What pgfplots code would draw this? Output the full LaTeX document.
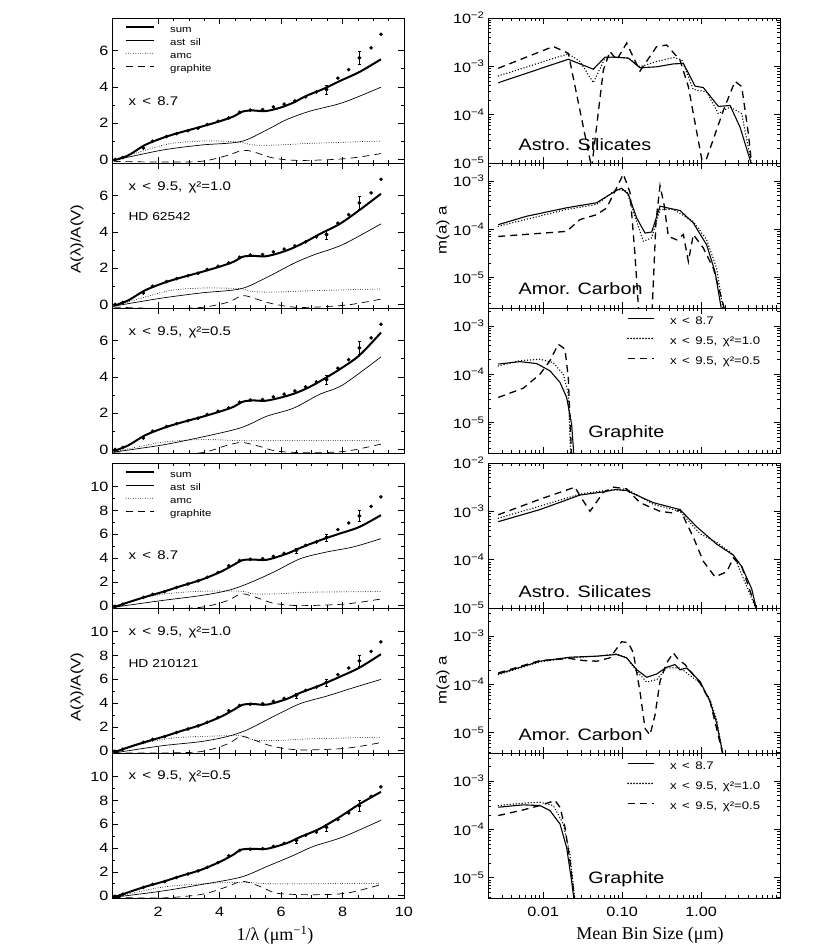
\documentclass[border=0pt]{standalone}
\usepackage{fontspec}
\setmainfont{Liberation Sans}[FakeStretch=1.2]
\newfontfamily\serif{Liberation Serif}
\usepackage{pgfplots}
\usepackage{pgfplotstable}
\pgfplotsset{compat=1.18}
\newcommand\fs[1]{\fontsize{#1}{#1}\selectfont}

\pgfplotstableread{
x y
0.60 0.00
0.85 0.10
1.52 0.62
1.82 1.00
2.27 1.26
2.60 1.42
2.97 1.58
3.30 1.72
3.60 1.92
3.95 2.10
4.30 2.28
4.65 2.60
5.00 2.72
5.40 2.75
5.75 2.90
6.10 3.05
6.45 3.22
6.80 3.45
7.15 3.72
7.48 3.85
7.85 4.48
8.20 4.95
8.55 5.60
8.93 6.15
9.25 6.90
}\ptsA
\pgfplotstableread{
x y e
7.48 3.85 0.25
8.55 5.60 0.35
}\errA
\pgfplotstableread{
x y
0.60 -0.05
0.85 0.12
1.52 0.70
1.82 0.95
2.21 1.18
2.60 1.52
2.97 1.82
3.30 2.08
3.60 2.38
3.95 2.78
4.30 3.35
4.65 3.80
5.00 3.90
5.40 3.95
5.75 4.15
6.10 4.40
6.50 4.65
6.80 5.07
7.15 5.35
7.48 5.75
7.85 6.40
8.20 6.95
8.55 7.55
8.93 8.35
9.25 9.15
}\ptsB
\pgfplotstableread{
x y e
6.50 4.65 0.20
7.48 5.75 0.30
8.55 7.55 0.45
}\errB

\pgfplotsset{
 base/.style={scale only axis, width=292pt, height=145pt, anchor=north west,
   tick align=inside, major tick length=6pt, minor tick length=3pt,
   tick style={black, line width=0.6pt}, axis line style={line width=0.9pt},
   ticklabel style={font=\fs{13.5}}, /pgf/number format/assume math mode=true},
 leftax/.style={base, xmin=0.5, xmax=10, xtick={2,4,6,8,10}, minor x tick num=3, minor y tick num=1},
 topL/.style={ymin=-0.2, ymax=7.8, ytick={0,2,4,6}},
 botL/.style={ymin=-0.2, ymax=12, ytick={0,2,4,6,8,10}},
 rightax/.style={base, xmin=-2.699, xmax=1, xtick={-2,-1,0},
   minor xtick={-2.523,-2.398,-2.301,-2.222,-2.155,-2.097,-2.046,-1.699,-1.523,-1.398,-1.301,-1.222,-1.155,-1.097,-1.046,-0.699,-0.523,-0.398,-0.301,-0.222,-0.155,-0.097,-0.046,0.301,0.477,0.602,0.699,0.778,0.845,0.903,0.954},
   minor ytick={-5.699,-5.523,-5.398,-5.301,-5.222,-5.155,-5.097,-5.046,-4.699,-4.523,-4.398,-4.301,-4.222,-4.155,-4.097,-4.046,-3.699,-3.523,-3.398,-3.301,-3.222,-3.155,-3.097,-3.046,-2.699,-2.523,-2.398,-2.301,-2.222,-2.155,-2.097,-2.046}},
 sumst/.style={black, line width=2pt, smooth},
 silst/.style={black, line width=0.7pt, smooth},
 amcst/.style={black, line width=0.9pt, line cap=round, dash pattern=on 0pt off 2.4pt, smooth},
 grast/.style={black, line width=0.7pt, dash pattern=on 7pt off 5pt, smooth},
 rsol/.style={black, line width=1.1pt},
 rdot/.style={black, line width=1.5pt, line cap=round, dash pattern=on 0pt off 3pt},
 rdash/.style={black, line width=1.3pt, dash pattern=on 7pt off 5pt},
 pts/.style={only marks, mark=*, mark size=1.6pt, black, forget plot},
 errs/.style={only marks, mark=*, mark size=1.6pt, black, forget plot, error bars/.cd, y dir=both, y explicit, error bar style={line width=0.8pt}},
 leglft/.style={legend style={at={(axis description cs:0.0445,0.963)}, anchor=north west, draw=none, fill=none, inner sep=0pt, font=\fs{9.5}, column sep=15pt, nodes={inner xsep=0pt, inner ysep=1.8pt, text height=7.2pt, text depth=2.2pt, anchor=west}},
   legend image code/.code={\draw[##1] (0pt,2.8pt) -- (28pt,2.8pt);}},
 legrgt/.style={legend style={at={(axis description cs:0.476,0.974)}, anchor=north west, draw=none, fill=none, inner sep=0pt, font=\fs{11}, column sep=15pt, nodes={inner xsep=0pt, inner ysep=4.75pt, text height=8pt, text depth=2.5pt, anchor=west}},
   legend image code/.code={\draw[##1, line width=1.8pt] (0pt,3.5pt) -- (26pt,3.5pt);}},
}

\begin{document}
\begin{tikzpicture}
\path[use as bounding box] (0pt,0pt) rectangle (830pt,949pt);

% ---------------- Left column, HD 62542 ----------------
\begin{axis}[leftax, topL, at={(112pt,931pt)}, xticklabels={}, leglft]
\addplot[sumst] coordinates {(0.55,-0.06) (1.03,0.22) (1.57,0.79) (2.21,1.22) (2.75,1.50) (3.40,1.80) (4.04,2.12) (4.47,2.38) (4.74,2.63) (5.06,2.70) (5.49,2.66) (5.97,2.85) (6.40,3.13) (6.83,3.51) (7.37,3.88) (7.91,4.32) (8.55,4.82) (9.25,5.52)};
\addlegendentry{sum}
\addplot[silst] coordinates {(0.55,-0.06) (2.10,0.50) (3.40,0.79) (4.69,0.98) (5.54,1.63) (6.19,2.20) (6.94,2.66) (8.01,3.13) (9.25,3.98)};
\addlegendentry{ast\enspace sil}
\addplot[amcst] coordinates {(0.55,-0.06) (1.57,0.50) (2.43,0.88) (3.40,1.01) (4.04,1.01) (4.69,0.94) (5.11,0.79) (5.87,0.79) (6.94,0.88) (9.25,1.01)};
\addlegendentry{amc}
\addplot[grast] coordinates {(0.55,-0.11) (2.10,-0.15) (3.40,-0.11) (4.26,0.22) (4.74,0.50) (5.11,0.41) (5.76,0.07) (6.62,-0.06) (8.12,0.04) (9.25,0.32)};
\addlegendentry{graphite}
\addplot[pts] table {\ptsA};
\addplot[errs] table[x=x, y=y, y error=e] {\errA};
\node[anchor=west, font=\fs{12.5}] at (axis description cs:0.0445,0.423) {x\enspace<\enspace8.7};
\end{axis}

\begin{axis}[leftax, topL, at={(112pt,786pt)}, xticklabels={}]
\addplot[sumst] coordinates {(0.55,-0.08) (1.03,0.22) (1.57,0.77) (2.21,1.20) (2.75,1.48) (3.40,1.78) (4.04,2.10) (4.47,2.36) (4.74,2.62) (5.06,2.68) (5.49,2.65) (5.97,2.85) (6.40,3.12) (6.83,3.48) (7.26,3.88) (7.91,4.44) (8.55,5.20) (9.25,6.10)};
\addplot[silst] coordinates {(0.55,-0.10) (2.10,0.34) (3.40,0.63) (4.69,0.86) (5.54,1.49) (6.40,2.25) (7.05,2.72) (8.01,3.30) (9.25,4.44)};
\addplot[amcst] coordinates {(0.55,-0.10) (1.57,0.40) (2.43,0.78) (3.40,0.90) (4.04,0.90) (4.69,0.86) (5.11,0.70) (5.87,0.68) (6.94,0.75) (9.25,0.85)};
\addplot[grast] coordinates {(0.55,-0.15) (2.10,-0.23) (3.40,-0.17) (4.26,0.11) (4.74,0.48) (5.11,0.34) (5.76,0.02) (6.62,-0.17) (8.12,-0.04) (9.25,0.29)};
\addplot[pts] table {\ptsA};
\addplot[errs] table[x=x, y=y, y error=e] {\errA};
\node[anchor=west, font=\fs{12.5}] at (axis description cs:0.0445,0.828) {x\enspace<\enspace9.5,\enspace χ²=1.0};
\node[anchor=west, font=\fs{11.5}] at (axis description cs:0.0445,0.634) {HD 62542};
\end{axis}

\begin{axis}[leftax, topL, at={(112pt,641pt)}, xticklabels={}]
\addplot[sumst] coordinates {(0.55,-0.10) (1.03,0.22) (1.57,0.77) (2.21,1.20) (2.75,1.48) (3.40,1.78) (4.04,2.10) (4.47,2.36) (4.74,2.62) (5.06,2.70) (5.49,2.68) (5.97,2.85) (6.40,3.06) (6.83,3.36) (7.26,3.75) (7.91,4.42) (8.55,5.19) (9.25,6.44)};
\addplot[silst] coordinates {(0.55,-0.15) (2.10,0.23) (3.40,0.67) (4.69,1.19) (5.54,1.83) (6.40,2.27) (7.26,3.04) (8.01,3.56) (9.25,5.10)};
\addplot[amcst] coordinates {(0.55,-0.15) (2.10,0.38) (3.40,0.54) (4.69,0.48) (5.87,0.48) (9.25,0.48)};
\addplot[grast] coordinates {(0.55,-0.19) (2.10,-0.25) (3.40,-0.19) (4.26,0.23) (4.74,0.38) (5.33,0.15) (5.87,-0.10) (6.94,-0.19) (8.12,-0.10) (9.25,0.29)};
\addplot[pts] table {\ptsA};
\addplot[errs] table[x=x, y=y, y error=e] {\errA};
\node[anchor=west, font=\fs{12.5}] at (axis description cs:0.0445,0.83) {x\enspace<\enspace9.5,\enspace χ²=0.5};
\end{axis}

% ---------------- Left column, HD 210121 ----------------
\begin{axis}[leftax, botL, at={(112pt,486pt)}, xticklabels={}, leglft]
\addplot[sumst] coordinates {(0.55,-0.14) (1.03,0.28) (1.57,0.72) (2.21,1.20) (2.75,1.65) (3.40,2.17) (4.04,2.85) (4.47,3.45) (4.74,3.82) (5.06,3.88) (5.54,3.86) (6.19,4.37) (6.62,4.85) (7.26,5.49) (7.91,6.06) (8.55,6.62) (9.25,7.61)};
\addlegendentry{sum}
\addplot[silst] coordinates {(0.55,-0.14) (2.10,0.42) (3.40,0.85) (4.26,1.27) (4.90,1.83) (5.76,2.82) (6.62,3.94) (7.48,4.51) (8.34,4.93) (9.25,5.63)};
\addlegendentry{ast\enspace sil}
\addplot[amcst] coordinates {(0.55,-0.14) (1.57,0.70) (2.43,1.04) (3.40,1.21) (4.69,1.21) (5.11,0.99) (5.87,0.99) (6.94,1.13) (9.25,1.18)};
\addlegendentry{amc}
\addplot[grast] coordinates {(0.55,-0.20) (2.10,-0.28) (3.40,-0.14) (4.26,0.42) (4.69,0.99) (5.11,0.76) (5.76,0.20) (6.62,0.00) (8.12,0.14) (9.25,0.56)};
\addlegendentry{graphite}
\addplot[pts] table {\ptsB};
\addplot[errs] table[x=x, y=y, y error=e] {\errB};
\node[anchor=west, font=\fs{12.5}] at (axis description cs:0.0445,0.366) {x\enspace<\enspace8.7};
\end{axis}

\begin{axis}[leftax, botL, at={(112pt,341pt)}, xticklabels={}]
\addplot[sumst] coordinates {(0.55,-0.16) (1.03,0.28) (1.57,0.72) (2.21,1.20) (2.75,1.65) (3.40,2.17) (4.04,2.85) (4.47,3.45) (4.74,3.85) (5.06,3.93) (5.54,3.87) (6.19,4.35) (6.62,4.86) (7.26,5.48) (7.91,6.21) (8.55,6.98) (9.25,8.11)};
\addplot[silst] coordinates {(0.55,-0.20) (2.10,0.40) (3.40,0.76) (4.26,1.19) (4.90,1.75) (5.76,2.88) (6.62,3.95) (7.48,4.58) (8.34,5.28) (9.25,5.99)};
\addplot[amcst] coordinates {(0.55,-0.20) (1.57,0.62) (2.43,1.05) (3.40,1.19) (4.69,1.25) (5.11,0.90) (5.87,0.85) (6.94,0.99) (9.25,1.13)};
\addplot[grast] coordinates {(0.55,-0.20) (2.10,-0.20) (3.40,-0.08) (4.26,0.56) (4.69,1.19) (5.11,0.90) (5.76,0.34) (6.62,0.06) (8.12,0.20) (9.25,0.68)};
\addplot[pts] table {\ptsB};
\addplot[errs] table[x=x, y=y, y error=e] {\errB};
\node[anchor=west, font=\fs{12.5}] at (axis description cs:0.0445,0.832) {x\enspace<\enspace9.5,\enspace χ²=1.0};
\node[anchor=west, font=\fs{11.5}] at (axis description cs:0.0445,0.619) {HD 210121};
\end{axis}

\begin{axis}[leftax, botL, at={(112pt,196pt)}, xticklabel style={yshift=-6pt}]
\addplot[sumst] coordinates {(0.55,-0.14) (1.03,0.28) (1.57,0.74) (2.21,1.21) (2.75,1.66) (3.40,2.17) (4.04,2.88) (4.47,3.48) (4.69,3.86) (5.06,3.94) (5.54,3.94) (6.19,4.42) (6.62,4.93) (7.26,5.63) (7.91,6.62) (8.55,7.70) (9.25,8.73)};
\addplot[silst] coordinates {(0.55,-0.14) (2.10,0.37) (3.40,0.93) (4.69,1.55) (5.54,2.45) (6.40,3.38) (7.05,4.14) (8.01,4.93) (9.25,6.34)};
\addplot[amcst] coordinates {(0.55,-0.14) (2.10,0.70) (3.40,0.99) (4.69,1.13) (5.87,0.99) (9.25,1.04)};
\addplot[grast] coordinates {(0.55,-0.14) (2.10,-0.20) (3.40,0.10) (4.26,0.76) (4.74,1.21) (5.33,0.76) (5.87,0.20) (6.94,0.08) (8.12,0.20) (9.25,0.93)};
\addplot[pts] table {\ptsB};
\addplot[errs] table[x=x, y=y, y error=e] {\errB};
\node[anchor=west, font=\fs{12.5}] at (axis description cs:0.0445,0.837) {x\enspace<\enspace9.5,\enspace χ²=0.5};
\end{axis}

% ---------------- Right column, top ----------------
\begin{axis}[rightax, at={(488pt,931pt)}, xticklabels={}, ymin=-5, ymax=-2, ytick={-5,-4,-3,-2},
  yticklabels={10\textsuperscript{−5},10\textsuperscript{−4},10\textsuperscript{−3},10\textsuperscript{−2}}]
\addplot[rsol] coordinates {(-2.569,-3.34) (-1.682,-2.854) (-1.534,-2.95) (-1.365,-3.06) (-1.217,-2.81) (-1.09,-2.81) (-0.921,-2.83) (-0.774,-3.03) (-0.562,-3.01) (-0.351,-2.95) (-0.224,-2.94) (-0.076,-3.41) (0.029,-3.44) (0.219,-3.83) (0.367,-3.81) (0.494,-4.26) (0.642,-5.05)};
\addplot[rdot] coordinates {(-2.569,-3.20) (-1.682,-2.74) (-1.534,-2.90) (-1.365,-3.34) (-1.217,-2.83) (-1.09,-2.81) (-0.921,-2.83) (-0.774,-3.01) (-0.562,-2.90) (-0.351,-2.82) (-0.245,-2.86) (-0.098,-3.48) (0.071,-3.53) (0.219,-3.98) (0.367,-3.84) (0.515,-3.98) (0.642,-5.05)};
\addplot[rdash] coordinates {(-2.569,-3.04) (-1.872,-2.59) (-1.682,-2.73) (-1.386,-5.1) (-1.238,-3.08) (-1.154,-2.69) (-1.069,-2.87) (-0.943,-2.52) (-0.774,-3.10) (-0.562,-2.59) (-0.436,-2.56) (-0.267,-2.87) (-0.161,-3.42) (0.029,-5.1) (0.283,-3.91) (0.43,-3.31) (0.515,-3.42) (0.60,-4.40) (0.642,-5.05)};
\node[anchor=west, font=\fs{16.5}] at (axis description cs:0.0925,0.124) {Astro. Silicates};
\end{axis}

\begin{axis}[rightax, at={(488pt,786pt)}, xticklabels={}, ymin=-5.63, ymax=-2.63, ytick={-5,-4,-3},
  yticklabels={10\textsuperscript{−5},10\textsuperscript{−4},10\textsuperscript{−3}}]
\addplot[rsol] coordinates {(-2.569,-3.906) (-2.21,-3.732) (-1.703,-3.557) (-1.323,-3.453) (-1.069,-3.195) (-1.006,-3.153) (-0.921,-3.279) (-0.816,-3.767) (-0.71,-4.08) (-0.626,-4.059) (-0.52,-3.523) (-0.393,-3.571) (-0.267,-3.613) (-0.098,-3.871) (0.071,-4.324) (0.177,-4.882) (0.262,-5.70)};
\addplot[rdot] coordinates {(-2.569,-3.94) (-1.703,-3.59) (-1.323,-3.49) (-1.069,-3.17) (-0.943,-3.21) (-0.816,-3.84) (-0.731,-4.25) (-0.626,-4.18) (-0.52,-3.59) (-0.351,-3.59) (-0.098,-3.84) (0.071,-4.22) (0.198,-4.81) (0.283,-5.70)};
\addplot[rdash] coordinates {(-2.569,-4.15) (-1.703,-4.045) (-1.534,-3.80) (-1.323,-3.70) (-1.196,-3.56) (-1.069,-3.14) (-0.985,-2.86) (-0.90,-3.24) (-0.837,-4.53) (-0.782,-5.9) (-0.626,-5.9) (-0.571,-3.84) (-0.52,-3.10) (-0.469,-3.49) (-0.414,-4.15) (-0.308,-4.22) (-0.224,-4.11) (-0.161,-4.67) (-0.098,-4.11) (0.029,-4.39) (0.156,-4.81) (0.304,-5.70)};
\node[anchor=west, font=\fs{16.5}] at (axis description cs:0.0925,0.131) {Amor. Carbon};
\end{axis}

\begin{axis}[rightax, at={(488pt,641pt)}, xticklabels={}, ymin=-5.63, ymax=-2.63, ytick={-5,-4,-3},
  yticklabels={10\textsuperscript{−5},10\textsuperscript{−4},10\textsuperscript{−3}}, legrgt]
\addplot[rsol] coordinates {(-2.569,-3.79) (-2.294,-3.74) (-2.083,-3.78) (-1.914,-3.93) (-1.787,-4.17) (-1.703,-4.48) (-1.64,-5.03) (-1.61,-5.70)};
\addlegendentry{x\enspace<\enspace8.7}
\addplot[rdot] coordinates {(-2.569,-3.83) (-2.294,-3.72) (-2.041,-3.69) (-1.872,-3.76) (-1.745,-4.00) (-1.682,-4.41) (-1.652,-5.70)};
\addlegendentry{x\enspace<\enspace9.5,\enspace χ²=1.0}
\addplot[rdash] coordinates {(-2.569,-4.48) (-2.252,-4.29) (-2.041,-4.00) (-1.914,-3.72) (-1.809,-3.38) (-1.724,-3.48) (-1.682,-4.07) (-1.64,-5.70)};
\addlegendentry{x\enspace<\enspace9.5,\enspace χ²=0.5}
\node[anchor=west, font=\fs{16.5}] at (axis description cs:0.332,0.138) {Graphite};
\end{axis}

% ---------------- Right column, bottom ----------------
\begin{axis}[rightax, at={(488pt,486pt)}, xticklabels={}, ymin=-5, ymax=-2, ytick={-5,-4,-3,-2},
  yticklabels={10\textsuperscript{−5},10\textsuperscript{−4},10\textsuperscript{−3},10\textsuperscript{−2}}]
\addplot[rsol] coordinates {(-2.569,-3.214) (-2.041,-2.964) (-1.534,-2.664) (-1.217,-2.593) (-1.09,-2.55) (-0.943,-2.571) (-0.605,-2.821) (-0.267,-2.964) (-0.055,-3.321) (0.198,-3.679) (0.409,-3.907) (0.515,-4.143) (0.642,-4.607) (0.705,-5.05)};
\addplot[rdot] coordinates {(-2.569,-3.143) (-2.041,-2.893) (-1.534,-2.643) (-1.217,-2.571) (-0.943,-2.536) (-0.605,-2.857) (-0.267,-3.0) (-0.013,-3.464) (0.198,-3.643) (0.409,-3.893) (0.705,-5.05)};
\addplot[rdash] coordinates {(-2.569,-3.071) (-2.041,-2.75) (-1.597,-2.5) (-1.534,-2.679) (-1.407,-3.0) (-1.238,-2.607) (-1.112,-2.5) (-0.943,-2.536) (-0.774,-2.821) (-0.52,-3.0) (-0.351,-3.036) (-0.267,-2.964) (-0.098,-3.536) (0.029,-4.036) (0.177,-4.357) (0.325,-4.25) (0.409,-3.964) (0.515,-4.143) (0.705,-5.05)};
\node[anchor=west, font=\fs{16.5}] at (axis description cs:0.0925,0.11) {Astro. Silicates};
\end{axis}

\begin{axis}[rightax, at={(488pt,341pt)}, xticklabels={}, ymin=-5.42, ymax=-2.42, ytick={-5,-4,-3},
  yticklabels={10\textsuperscript{−5},10\textsuperscript{−4},10\textsuperscript{−3}}]
\addplot[rsol] coordinates {(-2.569,-3.785) (-2.041,-3.521) (-1.661,-3.438) (-1.323,-3.417) (-1.069,-3.382) (-0.943,-3.451) (-0.816,-3.694) (-0.689,-3.854) (-0.562,-3.785) (-0.436,-3.646) (-0.33,-3.590) (-0.267,-3.701) (-0.182,-3.660) (-0.013,-3.938) (0.114,-4.354) (0.198,-4.806) (0.283,-5.50)};
\addplot[rdot] coordinates {(-2.569,-3.80) (-2.041,-3.535) (-1.661,-3.451) (-1.323,-3.417) (-1.069,-3.368) (-0.943,-3.451) (-0.816,-3.729) (-0.689,-3.951) (-0.562,-3.903) (-0.436,-3.66) (-0.267,-3.66) (-0.013,-3.972) (0.114,-4.319) (0.198,-4.736) (0.283,-5.50)};
\addplot[rdash] coordinates {(-2.569,-3.764) (-2.041,-3.507) (-1.661,-3.465) (-1.492,-3.507) (-1.323,-3.521) (-1.154,-3.451) (-1.006,-3.118) (-0.921,-3.139) (-0.858,-3.347) (-0.774,-4.146) (-0.71,-4.910) (-0.647,-5.049) (-0.583,-4.632) (-0.52,-3.938) (-0.436,-3.556) (-0.351,-3.347) (-0.288,-3.486) (-0.203,-3.590) (-0.013,-3.972) (0.114,-4.354) (0.283,-5.50)};
\node[anchor=west, font=\fs{16.5}] at (axis description cs:0.0925,0.124) {Amor. Carbon};
\end{axis}

\begin{axis}[rightax, at={(488pt,196pt)}, ymin=-5.42, ymax=-2.42, ytick={-5,-4,-3},
  yticklabels={10\textsuperscript{−5},10\textsuperscript{−4},10\textsuperscript{−3}},
  xticklabels={0.01,0.10,1.00}, xticklabel style={yshift=-6pt}, legrgt]
\addplot[rsol] coordinates {(-2.569,-3.542) (-2.252,-3.493) (-2.041,-3.507) (-1.914,-3.611) (-1.787,-3.889) (-1.703,-4.375) (-1.64,-5.069) (-1.606,-5.50)};
\addlegendentry{x\enspace<\enspace8.7}
\addplot[rdot] coordinates {(-2.569,-3.507) (-2.252,-3.458) (-2.041,-3.438) (-1.872,-3.507) (-1.745,-3.889) (-1.661,-4.514) (-1.597,-5.50)};
\addlegendentry{x\enspace<\enspace9.5,\enspace χ²=1.0}
\addplot[rdash] coordinates {(-2.569,-3.715) (-2.252,-3.597) (-2.041,-3.507) (-1.851,-3.403) (-1.787,-3.542) (-1.724,-3.958) (-1.661,-4.653) (-1.597,-5.50)};
\addlegendentry{x\enspace<\enspace9.5,\enspace χ²=0.5}
\node[anchor=west, font=\fs{16.5}] at (axis description cs:0.332,0.131) {Graphite};
\end{axis}

% ---------------- axis labels ----------------
\node[rotate=90, font=\fs{14}] at (77pt,710pt) {A(λ)/A(V)};
\node[rotate=90, font=\fs{14}] at (77pt,262pt) {A(λ)/A(V)};
\node[rotate=90, font=\fs{14}] at (443pt,719pt) {m(a) a};
\node[rotate=90, font=\fs{14}] at (443pt,269pt) {m(a) a};
\node[font=\serif\fs{18}] at (275pt,14pt) {1/λ (μm\textsuperscript{−1})};
\node[font=\serif\fs{18}] at (650pt,14pt) {Mean Bin Size (μm)};
\end{tikzpicture}
\end{document}
